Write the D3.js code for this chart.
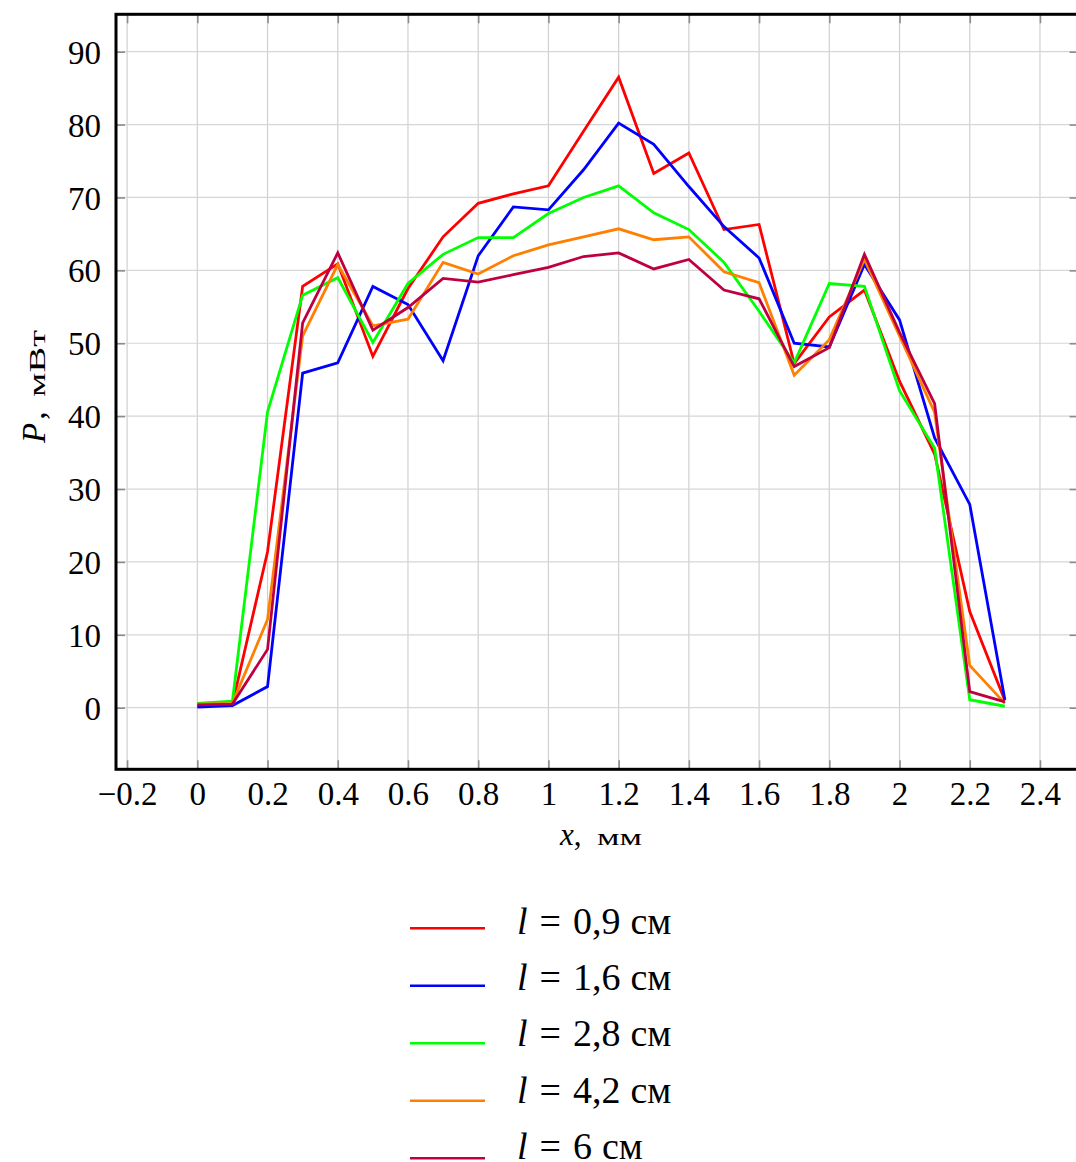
<!DOCTYPE html>
<html>
<head>
<meta charset="utf-8">
<script src="https://cdn.jsdelivr.net/npm/d3@7"></script>
<style>
  body { margin: 0; background: #fff; }
  svg text { font-family: "Liberation Serif", "DejaVu Serif", serif; fill: #000; }
</style>
</head>
<body>
<svg id="chart" width="1076" height="1162"></svg>
<script>
// x positions, mm
let xs = [0, 0.1, 0.2, 0.3, 0.4, 0.5, 0.6, 0.7, 0.8, 0.9, 1.0, 1.1, 1.2, 1.3, 1.4, 1.5, 1.6, 1.7, 1.8, 1.9, 2.0, 2.1, 2.2, 2.3];

// P, mW for each l
let p09 = [0.3, 0.5, 21.4, 57.8, 60.9, 48.2, 57.5, 64.6, 69.2, 70.5, 71.6, 79.1, 86.5, 73.3, 76.1, 65.6, 66.3, 47.2, 53.6, 57.3, 44.8, 34.8, 13.2, 1.0];
let p16 = [0.1, 0.3, 2.9, 45.9, 47.3, 57.8, 55.3, 47.6, 62.0, 68.7, 68.3, 73.8, 80.2, 77.3, 71.5, 66.0, 61.7, 50.0, 49.5, 60.8, 53.2, 37.0, 27.9, 1.1];
let p28 = [0.6, 0.9, 40.6, 56.6, 59.0, 50.1, 58.2, 62.2, 64.5, 64.5, 67.8, 70.0, 71.6, 67.9, 65.6, 61.1, 54.4, 47.3, 58.2, 57.8, 43.5, 35.6, 1.1, 0.2];
let p42 = [0.5, 0.6, 12.1, 51.0, 60.8, 52.4, 53.3, 61.1, 59.5, 62.0, 63.5, 64.6, 65.7, 64.2, 64.6, 59.8, 58.3, 45.6, 50.5, 61.5, 51.0, 40.5, 5.8, 0.6];
let p60 = [0.4, 0.5, 8.0, 52.8, 62.4, 51.8, 54.9, 58.9, 58.4, 59.4, 60.4, 61.9, 62.4, 60.2, 61.5, 57.3, 56.1, 46.8, 49.4, 62.2, 51.5, 41.7, 2.2, 0.8];

let seriesNames = ["0,9", "1,6", "2,8", "4,2", "6"];
let seriesColors = ["#ff0000", "#0000ff", "#00ff00", "#ff8000", "#bf0040"];
let seriesValues = [p09, p16, p28, p42, p60];

let xTicks = [-0.2, 0, 0.2, 0.4, 0.6, 0.8, 1, 1.2, 1.4, 1.6, 1.8, 2, 2.2, 2.4];
let yTicks = [0, 10, 20, 30, 40, 50, 60, 70, 80, 90];

var drawChart = function() {
  let svg = d3.select("#chart");

  let left = 116, right = 1078.6, top = 14.3, bottom = 769.3;

  let xScale = d3.scaleLinear()
    .domain([-0.2316, 2.51])
    .range([left, right]);

  let yScale = d3.scaleLinear()
    .domain([-8.45, 95.13])
    .range([bottom, top]);

  let fmt = function(v) {
    let s = String(+Math.abs(v).toFixed(1));
    return (v < 0 ? "\u2212" : "") + s;
  };

  // grid
  let grid = svg.append("g").attr("id", "grid");
  grid.selectAll("line.gx")
    .data(xTicks)
    .enter().append("line")
    .attr("class", "gx")
    .attr("x1", d => xScale(d)).attr("x2", d => xScale(d))
    .attr("y1", top).attr("y2", bottom)
    .attr("stroke", "#d0d0d0").attr("stroke-width", 1.2);
  grid.selectAll("line.gy")
    .data(yTicks)
    .enter().append("line")
    .attr("class", "gy")
    .attr("y1", d => yScale(d)).attr("y2", d => yScale(d))
    .attr("x1", left).attr("x2", right)
    .attr("stroke", "#d6d6d6").attr("stroke-width", 1.2);

  // inner ticks on all four sides
  let tickLen = 9;
  let tickStyle = function(g) {
    g.select(".domain").remove();
    g.selectAll(".tick line").attr("stroke", "#8c8c8c").attr("stroke-width", 1.6);
  };
  svg.append("g").attr("transform", "translate(0," + bottom + ")")
    .call(d3.axisBottom(xScale).tickValues(xTicks).tickSize(-tickLen).tickFormat(""))
    .call(tickStyle);
  svg.append("g").attr("transform", "translate(0," + top + ")")
    .call(d3.axisTop(xScale).tickValues(xTicks).tickSize(-tickLen).tickFormat(""))
    .call(tickStyle);
  svg.append("g").attr("transform", "translate(" + left + ",0)")
    .call(d3.axisLeft(yScale).tickValues(yTicks).tickSize(-tickLen).tickFormat(""))
    .call(tickStyle);
  svg.append("g").attr("transform", "translate(" + right + ",0)")
    .call(d3.axisRight(yScale).tickValues(yTicks).tickSize(-tickLen).tickFormat(""))
    .call(tickStyle);

  // tick labels
  let xAxis = svg.append("g").attr("id", "x-axis")
    .attr("transform", "translate(0," + bottom + ")")
    .call(d3.axisBottom(xScale).tickValues(xTicks).tickSize(0).tickPadding(12).tickFormat(fmt));
  xAxis.select(".domain").remove();
  xAxis.selectAll("text")
    .style("font-family", "'Liberation Serif', serif")
    .style("font-size", "33px");

  let yAxis = svg.append("g").attr("id", "y-axis")
    .attr("transform", "translate(" + left + ",0)")
    .call(d3.axisLeft(yScale).tickValues(yTicks).tickSize(0).tickPadding(15).tickFormat(fmt));
  yAxis.select(".domain").remove();
  yAxis.selectAll("text")
    .attr("dy", "0.35em")
    .style("font-family", "'Liberation Serif', serif")
    .style("font-size", "33px");

  // data lines
  svg.append("clipPath").attr("id", "clip")
    .append("rect")
    .attr("x", left).attr("y", top)
    .attr("width", right - left).attr("height", bottom - top);

  let line = d3.line()
    .x((d, i) => xScale(xs[i]))
    .y(d => yScale(d));

  let plot = svg.append("g").attr("id", "plot").attr("clip-path", "url(#clip)");
  plot.selectAll("path")
    .data(seriesValues)
    .enter().append("path")
    .attr("d", d => line(d))
    .attr("fill", "none")
    .attr("stroke", (d, i) => seriesColors[i])
    .attr("stroke-width", 2.8)
    .attr("stroke-linejoin", "miter");

  // frame
  svg.append("rect")
    .attr("x", left).attr("y", top)
    .attr("width", right - left).attr("height", bottom - top)
    .attr("fill", "none")
    .attr("stroke", "#000")
    .attr("stroke-width", 3);

  // axis titles
  let xTitle = svg.append("text")
    .attr("x", 560).attr("y", 845);
  xTitle.append("tspan").style("font-style", "italic").style("font-size", "31px").text("x");
  xTitle.append("tspan").style("font-size", "31px").text(",");
  xTitle.append("tspan").attr("x", 597).attr("textLength", 45).attr("lengthAdjust", "spacingAndGlyphs")
    .style("font-size", "24px").text("мм");

  let yTitle = svg.append("text")
    .attr("transform", "translate(45,443) rotate(-90)");
  yTitle.append("tspan").style("font-style", "italic").style("font-size", "33px").text("P");
  yTitle.append("tspan").attr("dx", 3).style("font-size", "33px").text(",");
  yTitle.append("tspan").attr("x", 46).attr("textLength", 67).attr("lengthAdjust", "spacingAndGlyphs")
    .style("font-size", "24px").text("мВт");

  // legend
  let legend = svg.append("g").attr("id", "legend");
  let rows = legend.selectAll("g")
    .data(seriesNames)
    .enter().append("g");
  rows.append("line")
    .attr("x1", 410).attr("x2", 485)
    .attr("y1", (d, i) => 928.3 + i * 57.5).attr("y2", (d, i) => 928.3 + i * 57.5)
    .attr("stroke", (d, i) => seriesColors[i])
    .attr("stroke-width", 2.6);
  let lbl = rows.append("text")
    .attr("x", 517).attr("y", (d, i) => 934 + i * 56.2)
    .style("font-size", "38px");
  lbl.append("tspan").style("font-style", "italic").text("l");
  lbl.append("tspan").attr("dx", 12).text("=");
  lbl.append("tspan").attr("dx", 12).text(d => d);
  lbl.append("tspan").attr("dx", 10).text("см");
};

drawChart();
</script>
</body>
</html>
